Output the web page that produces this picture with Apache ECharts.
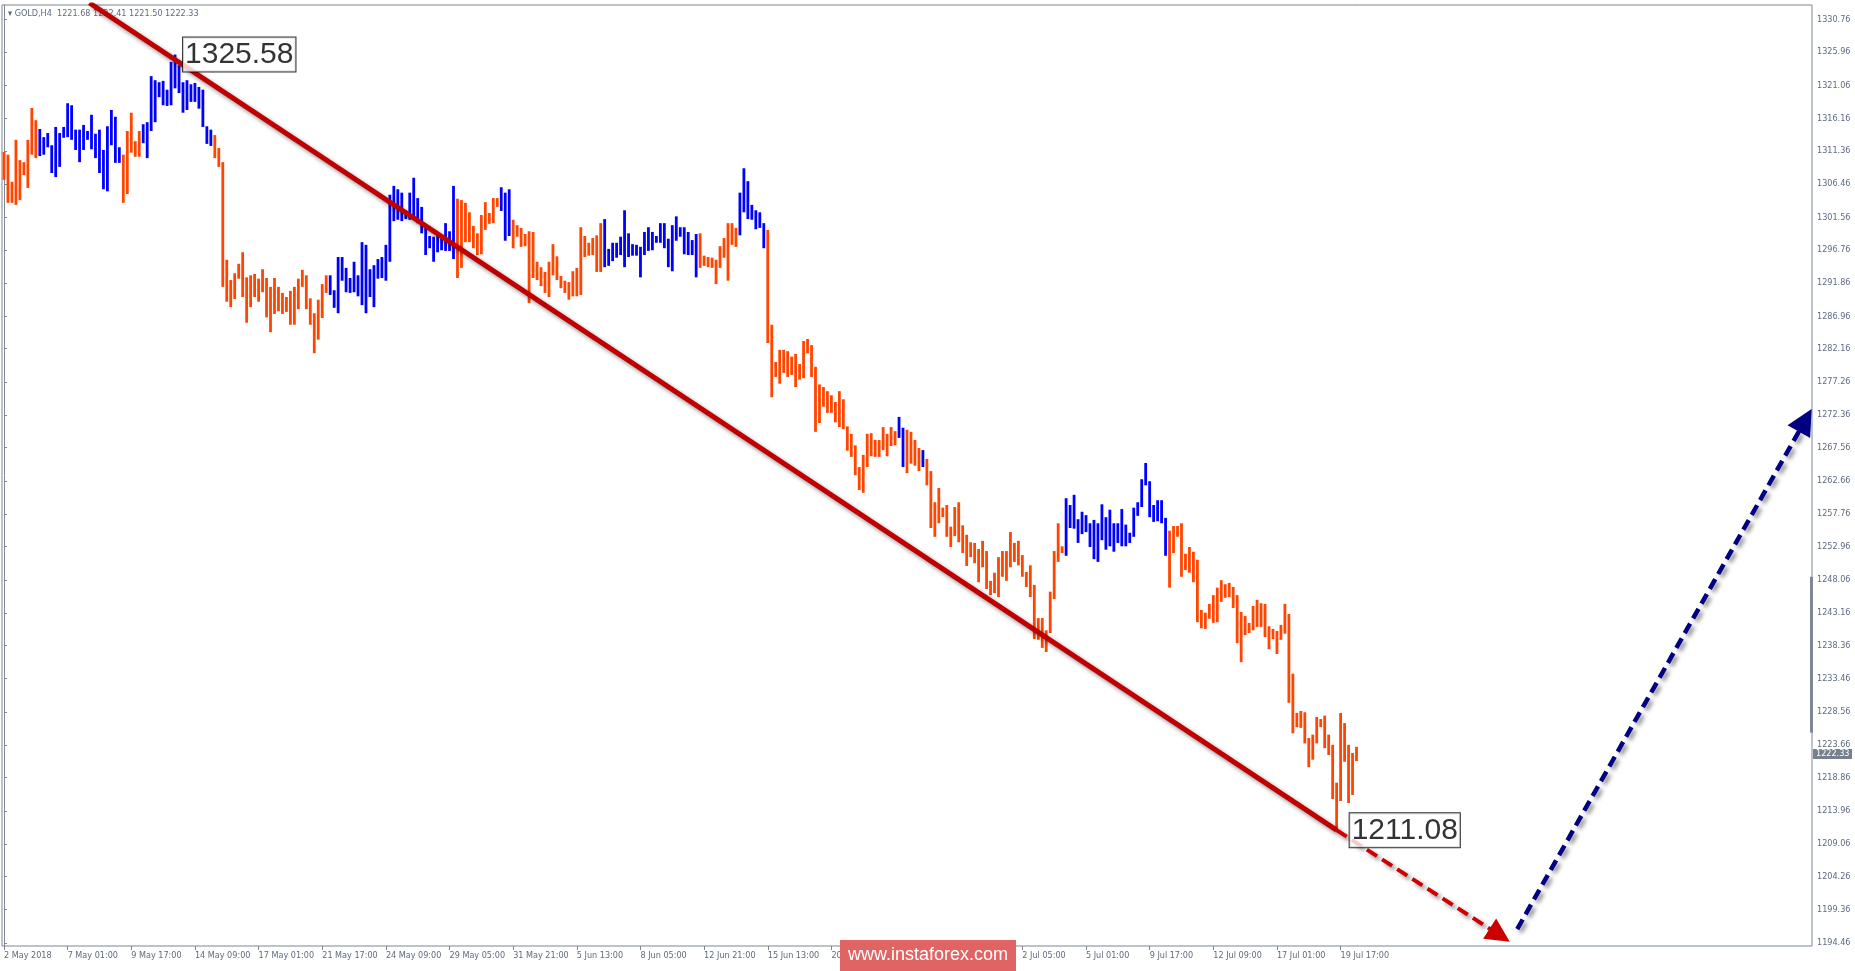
<!DOCTYPE html>
<html><head><meta charset="utf-8">
<script src="https://cdn.jsdelivr.net/npm/echarts@6/dist/echarts.min.js"></script>
<style>html,body{margin:0;padding:0;background:#fff}#c{width:1855px;height:971px}</style>
</head><body><div id="c"></div>
<script>
const highs = [
1311.2,1310.8,1306.8,1313.0,1310.0,1309.7,1313.0,1317.7,1315.9,1314.6,
1313.4,1314.0,1312.2,1314.9,1314.0,1314.9,1318.4,1318.1,1314.5,1314.5,
1315.2,1314.3,1316.7,1313.9,1314.5,1311.5,1315.0,1317.4,1316.4,1311.9,
1310.8,1314.3,1317.0,1312.8,1314.3,1315.3,1315.6,1322.4,1321.8,1321.5,
1321.7,1320.4,1324.5,1325.58,1324.0,1321.5,1321.8,1321.2,1321.4,1320.8,
1320.4,1315.0,1314.5,1313.7,1311.8,1309.7,1295.3,1292.3,1293.3,1294.7,
1296.4,1292.7,1293.0,1293.2,1292.5,1293.9,1292.6,1291.3,1292.6,1291.3,
1290.4,1289.8,1290.7,1291.3,1292.5,1293.8,1293.0,1289.6,1287.4,1289.4,
1291.7,1293.0,1293.0,1290.8,1295.7,1295.7,1294.1,1292.6,1295.0,1293.0,
1297.9,1297.5,1293.9,1294.5,1295.4,
1295.7,1297.5,1304.9,1306.2,1305.7,1305.2,1302.6,1305.2,1307.4,1304.4,
1303.1,1300.0,1298.8,1298.7,1299.4,1298.7,1300.7,1299.5,1306.2,1304.3,
1304.1,1303.7,1302.3,1300.3,1299.2,1301.9,1303.8,1302.2,1304.4,1304.4,
1306.0,1305.2,1305.7,1301.2,1300.4,1300.0,1299.1,1299.5,1299.4,1295.0,
1294.2,1293.5,1295.0,1297.6,1295.8,1292.9,1292.2,1292.0,1293.6,1294.1,
1300.1,1298.8,1297.8,1298.5,1298.9,1300.7,1301.3,1296.9,1297.8,1297.8,
1298.7,1302.6,1299.2,1297.6,1297.5,1297.2,1299.4,1300.1,1299.4,1298.8,
1300.7,1300.7,1298.4,1300.4,1301.7,1300.1,1300.1,1299.4,1298.2,1299.1,
1299.2,1295.9,1295.7,1295.6,1295.3,1297.3,1298.5,1300.7,1300.7,1300.0,
1305.2,1308.8,1306.9,1303.4,1302.6,1302.3,1300.7,1299.7,1285.7,1280.2,
1282.0,1282.0,1281.8,1281.0,1281.4,1279.9,1283.3,1283.6,1282.7,1279.5,
1276.9,1276.5,1275.9,1275.3,1274.3,1275.9,1274.7,1270.7,1269.6,1267.9,
1264.7,1266.5,1269.6,1269.7,1268.7,1268.7,1270.6,1269.6,1270.6,1270.0,
1272.1,1270.5,1270.2,1269.9,1268.7,1267.5,1267.2,1265.9,1264.1,1259.5,
1261.6,1258.7,1259.1,1255.9,1258.8,1259.5,1256.1,1254.7,1253.6,1253.5,
1252.6,1253.8,1252.3,1247.9,1249.1,1251.4,1252.3,1252.3,1255.1,1253.5,
1253.8,1251.7,1249.2,1250.2,1247.3,1242.4,1242.4,1240.6,1246.3,1252.3,
1256.4,1253.0,1260.1,1259.1,1260.6,1257.0,1258.1,1257.6,1256.4,1256.9,
1256.4,1259.2,1257.3,1258.4,1256.4,1256.4,1258.5,1256.2,1255.0,1258.7,
1259.5,1262.9,1265.3,1262.6,1259.1,1259.8,1259.8,1257.2,1255.3,1256.0,
1256.0,1256.4,1251.9,1252.9,1252.2,1251.0,1243.6,1243.2,1244.5,1245.8,
1246.9,1248.0,1247.4,1247.6,1247.0,1245.8,1243.3,1242.7,1241.7,1244.2,
1245.1,1244.6,1244.5,1241.2,1240.8,1240.5,1241.4,1244.5,1243.0,1234.2,
1228.4,1228.7,1228.5,1224.7,1225.2,1227.8,1227.5,1228.0,1225.2,1223.7,
1218.1,1228.4,1226.9,1223.7,1222.5,1223.4
];
const lows = [
1307.1,1303.7,1303.7,1303.4,1304.1,1307.8,1305.9,1310.8,1310.3,1310.6,
1310.8,1311.9,1308.1,1307.5,1309.0,1313.3,1313.4,1313.0,1311.5,1309.7,
1311.5,1313.0,1311.6,1310.3,1308.1,1305.7,1305.4,1312.2,1309.6,1309.6,
1303.7,1305.0,1311.1,1310.5,1310.5,1312.5,1310.3,1314.3,1315.6,1319.3,
1318.1,1318.0,1318.1,1320.6,1319.9,1317.0,1317.4,1318.6,1318.6,1317.6,
1314.9,1312.4,1312.1,1310.3,1309.0,1291.3,1289.1,1288.3,1289.5,1292.5,
1289.8,1286.0,1288.3,1289.8,1289.1,1290.5,1286.8,1284.6,1287.3,1287.7,
1287.3,1287.6,1285.7,1285.7,1288.0,1291.3,1288.0,1285.7,1281.5,1283.5,
1286.7,1290.4,1290.1,1288.2,1287.4,1292.2,1290.5,1290.4,1290.5,1289.9,
1288.6,1287.4,1289.8,1288.3,1292.5,
1292.6,1292.2,1295.0,1301.0,1301.2,1301.0,1301.3,1301.2,1301.3,1300.7,
1299.2,1296.0,1297.0,1295.0,1296.4,1296.7,1296.6,1296.6,1295.4,1292.6,
1294.1,1297.9,1297.9,1297.0,1296.0,1296.1,1299.7,1300.6,1300.7,1303.1,
1302.5,1298.1,1298.8,1297.0,1298.7,1297.2,1297.3,1288.9,1292.6,1292.3,
1291.4,1290.4,1289.8,1293.0,1292.3,1291.1,1290.4,1289.4,1289.9,1289.9,
1290.1,1295.7,1295.9,1296.0,1293.5,1293.5,1294.2,1294.4,1295.1,1295.6,
1296.0,1294.2,1295.7,1295.9,1295.9,1292.7,1296.0,1296.6,1296.7,1297.8,
1297.8,1297.0,1294.2,1293.6,1298.1,1298.7,1296.1,1296.0,1296.0,1292.7,
1294.1,1294.4,1294.2,1294.1,1291.7,1294.1,1295.6,1292.2,1297.5,1297.2,
1298.9,1302.3,1301.3,1301.2,1299.8,1300.0,1297.0,1283.0,1275.0,1278.0,
1277.0,1278.6,1278.0,1278.3,1276.5,1277.6,1277.8,1281.5,1278.0,1269.9,
1271.2,1273.6,1272.7,1272.7,1271.3,1270.6,1270.3,1267.1,1266.2,1263.5,
1261.3,1260.9,1264.7,1266.3,1266.2,1266.2,1267.2,1266.3,1267.8,1267.9,
1269.0,1264.7,1263.8,1265.2,1264.9,1264.1,1264.7,1262.0,1255.7,1254.4,
1256.4,1257.3,1254.4,1252.9,1254.5,1253.6,1252.0,1250.1,1251.4,1250.5,
1247.7,1249.9,1246.7,1245.8,1246.1,1245.5,1248.5,1247.9,1249.9,1250.7,
1250.2,1248.5,1247.0,1245.5,1239.3,1239.2,1238.0,1237.4,1240.2,1245.2,
1250.7,1252.0,1251.6,1255.7,1255.6,1253.5,1254.8,1255.1,1252.9,1251.1,
1250.7,1253.9,1252.5,1253.0,1252.2,1253.5,1253.0,1253.0,1253.5,1254.4,
1257.5,1258.8,1262.0,1257.3,1256.6,1256.7,1256.4,1251.6,1246.9,1252.0,
1254.4,1248.5,1249.5,1249.1,1247.7,1241.8,1240.9,1240.8,1242.3,1241.7,
1241.8,1244.8,1245.4,1245.5,1243.9,1238.7,1235.9,1239.9,1240.2,1240.6,
1241.1,1241.1,1239.6,1237.8,1239.3,1237.1,1239.2,1240.1,1229.9,1225.4,
1226.3,1226.2,1223.9,1220.4,1221.5,1223.9,1226.3,1223.2,1222.2,1215.7,
1211.08,1215.4,1221.2,1215.1,1216.3,1221.3
];
// colour runs: [firstIndex, lastIndex, 'up'|'down']
const colorRuns = [
[0,8,'down'],[9,29,'up'],[30,34,'down'],[35,52,'up'],[53,81,'down'],[82,113,'up'],
[114,124,'down'],[125,127,'up'],[128,150,'down'],[151,174,'up'],[175,184,'down'],
[185,191,'up'],[192,224,'down'],[225,226,'up'],[227,230,'down'],[231,231,'up'],
[232,266,'down'],[267,292,'up'],[293,340,'down']
];
const timeTickIdx = [0,16,32,48,64,80,96,112,128,144,160,176,192,208,224,240,256,272,288,304,320,336];
const timeTickLabels = ['2 May 2018','7 May 01:00','9 May 17:00','14 May 09:00','17 May 01:00','21 May 17:00',
'24 May 09:00','29 May 05:00','31 May 21:00','5 Jun 13:00','8 Jun 05:00','12 Jun 21:00','15 Jun 13:00',
'20 Jun 05:00','22 Jun 21:00','27 Jun 13:00','2 Jul 05:00','5 Jul 01:00','9 Jul 17:00','12 Jul 09:00','17 Jul 01:00','19 Jul 17:00'];
const priceTicks = [1330.76,1325.96,1321.06,1316.16,1311.36,1306.46,1301.56,1296.76,1291.86,1286.96,1282.16,
1277.26,1272.36,1267.56,1262.66,1257.76,1252.96,1248.06,1243.16,1238.36,1233.46,1228.56,1223.66,1218.86,
1213.96,1209.06,1204.26,1199.36,1194.46];
const trendMain = [[21.5,1333.2],[335,1211.1]];
const trendProj = [[335,1211.1],[376,1195.6]];
const trendUp = [[380.4,1196.5],[452.8,1271.6]];
const markHigh = [43,1325.58];
const markLow = [335,1211.08];
const lastPrice = 1222.33;
const header = 'GOLD,H4  1221.68 1222.41 1221.50 1222.33';

const colorOf = [];
colorRuns.forEach(r => { for (let i = r[0]; i <= r[1]; i++) colorOf[i] = r[2]; });
const barData = highs.map((h, i) => [i, h, lows[i], colorOf[i] === 'up' ? 1 : 0]);
const labelMap = {}; timeTickIdx.forEach((v, i) => labelMap[v] = timeTickLabels[i]);

const chart = echarts.init(document.getElementById('c'));
const shadow = {shadowBlur: 4, shadowColor: 'rgba(0,0,0,0.45)', shadowOffsetX: 3, shadowOffsetY: 3};
chart.setOption({
  animation: false,
  grid: {left: 2, right: 43, top: 5, bottom: 25, show: true, borderColor: '#7d8796', borderWidth: 1},
  xAxis: {
    type: 'value', min: -0.5, max: 454.5,
    axisLine: {show: false}, splitLine: {show: false},
    axisTick: {show: true, customValues: timeTickIdx, length: 4, lineStyle: {color: '#7d8796'}},
    axisLabel: {customValues: timeTickIdx, formatter: v => labelMap[v] || '', align: 'left', margin: 5,
      fontFamily: 'DejaVu Sans Condensed, Liberation Sans', fontSize: 9, color: '#5d6b80'}
  },
  yAxis: {
    type: 'value', position: 'right', min: 1194.0, max: 1332.9,
    axisLine: {show: true, lineStyle: {color: '#7d8796'}}, splitLine: {show: false},
    axisTick: {show: true, customValues: priceTicks, length: 3, lineStyle: {color: '#7d8796'}},
    axisLabel: {customValues: priceTicks, formatter: v => v.toFixed(2), margin: 5,
      fontFamily: 'DejaVu Sans Condensed, Liberation Sans', fontSize: 9, color: '#5d6b80'}
  },
  series: [
    {
      type: 'custom', data: barData, clip: true,
      renderItem: (params, api) => {
        const top = api.coord([api.value(0), api.value(1)]);
        const bot = api.coord([api.value(0), api.value(2)]);
        return {type: 'rect', shape: {x: top[0] - 1.4, y: top[1], width: 2.8, height: Math.max(1, bot[1] - top[1])},
          style: {fill: api.value(3) === 1 ? '#0000ff' : '#ff4500'}};
      }
    },
    {type: 'lines', coordinateSystem: 'cartesian2d', z: 5, polyline: false,
      data: [{coords: trendMain}],
      lineStyle: Object.assign({color: '#c00000', width: 5, opacity: 1}, shadow)},
    {type: 'lines', coordinateSystem: 'cartesian2d', z: 5,
      symbol: ['none', 'triangle'], symbolSize: [18, 24],
      data: [{coords: trendProj}],
      itemStyle: {color: '#cc0000'},
      lineStyle: Object.assign({color: '#cc0000', width: 4, type: [12, 6], opacity: 1}, shadow)},
    {type: 'lines', coordinateSystem: 'cartesian2d', z: 5,
      symbol: ['none', 'triangle'], symbolSize: [22, 26],
      data: [{coords: trendUp}],
      itemStyle: {color: '#000080'},
      lineStyle: Object.assign({color: '#000080', width: 4.5, type: [11, 6], opacity: 1}, shadow)},
    {type: 'scatter', z: 10, symbolSize: 0, data: [markHigh],
      label: {show: true, position: 'right', distance: 8, formatter: p => p.value[1].toFixed(2),
        fontSize: 30, fontFamily: 'Liberation Sans, Arial', color: '#000', backgroundColor: '#fff',
        borderColor: '#000', borderWidth: 1, padding: [3, 2, 1, 2]}},
    {type: 'scatter', z: 10, symbolSize: 0, data: [markLow],
      label: {show: true, position: 'right', distance: 13, formatter: p => p.value[1].toFixed(2),
        fontSize: 30, fontFamily: 'Liberation Sans, Arial', color: '#000', backgroundColor: '#fff',
        borderColor: '#000', borderWidth: 1, padding: [3, 2, 1, 2]}}
  ]
});
const pPrice = chart.convertToPixel({gridIndex: 0}, [0, lastPrice]);
const pA = chart.convertToPixel({gridIndex: 0}, [0, 1248.5]);
const pB = chart.convertToPixel({gridIndex: 0}, [0, 1225.5]);
chart.setOption({graphic: [
  {type: 'text', left: 8, top: 9, style: {text: '\u25BE ' + header, fontSize: 9, fill: '#5d6b80',
    fontFamily: 'DejaVu Sans Condensed, Liberation Sans'}},
  {type: 'rect', shape: {x: 1810, y: pA[1], width: 3, height: pB[1] - pA[1]}, style: {fill: '#7d8796'}},
  {type: 'rect', shape: {x: 1813, y: pPrice[1] - 5, width: 39, height: 10}, style: {fill: '#77808f'}, z: 20},
  {type: 'text', x: 1816, y: pPrice[1] - 5, z: 21, style: {text: lastPrice.toFixed(2), fill: '#fff', fontSize: 9,
    fontFamily: 'DejaVu Sans Condensed, Liberation Sans'}},
  {type: 'rect', shape: {x: 840, y: 940, width: 176, height: 31}, style: {fill: '#e06464'}, z: 30},
  {type: 'text', x: 928, y: 955, z: 31, style: {text: 'www.instaforex.com', fill: '#fff', fontSize: 18,
    fontFamily: 'Liberation Sans, Arial', align: 'center', verticalAlign: 'middle'}}
]});
</script></body></html>
